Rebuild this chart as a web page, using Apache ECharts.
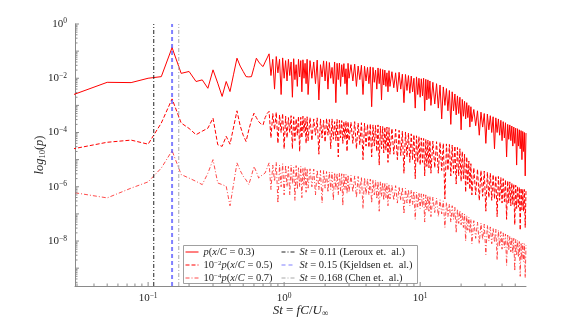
<!DOCTYPE html>
<html><head><meta charset="utf-8">
<script src="https://cdn.jsdelivr.net/npm/echarts@6/dist/echarts.min.js"></script>
<style>html,body{margin:0;padding:0;background:#fff}#c{width:581px;height:323px}</style>
</head><body><div id="c"></div>
<script>
// Strouhal number bins (shared by the three spectra)
const st = [
 0.025,0.05,0.075,0.1,0.125,0.15,0.175,0.2,0.225,0.25,0.275,0.3,0.325,0.35,0.375,0.4,0.425,0.45,0.475,0.5,
 0.525,0.55,0.575,0.6,0.625,0.65,0.675,0.7,0.725,0.75,0.775,0.8,0.825,0.85,0.875,0.9,0.925,0.95,0.975,1.0,
 1.025,1.05,1.075,1.1,1.125,1.15,1.175,1.2,1.225,1.25,1.275,1.3,1.325,1.35,1.375,1.4,1.425,1.45,1.475,1.5,
 1.55,1.6,1.65,1.7,1.75,1.8,1.85,1.9,1.95,2.0,2.05,2.1,2.15,2.2,2.25,2.3,2.35,2.4,2.45,2.5,
 2.55,2.6,2.65,2.7,2.75,2.8,2.85,2.9,2.95,3.0,
 3.1,3.2,3.3,3.4,3.5,3.6,3.7,3.8,3.9,4.0,4.1,4.2,4.3,4.4,4.5,4.6,4.7,4.8,4.9,5.0,
 5.1,5.2,5.3,5.4,5.5,5.6,5.7,5.8,5.9,6.0,
 6.2,6.4,6.6,6.8,7.0,7.2,7.4,7.6,7.8,8.0,8.2,8.4,8.6,8.8,9.0,9.2,9.4,9.6,9.8,10.0,
 10.2,10.4,10.6,10.8,11.0,11.2,11.4,11.6,11.8,12.0,
 12.4,12.8,13.2,13.6,14.0,14.4,14.8,15.2,15.6,16.0,16.4,16.8,17.2,17.6,18.0,18.4,18.8,19.2,19.6,20.0,
 20.4,20.8,21.2,21.6,22.0,22.4,22.8,23.2,23.6,24.0,
 24.8,25.6,26.4,27.2,28,28.8,29.6,30.4,31.2,32,32.8,33.6,34.4,35.2,36,36.8,37.6,38.4,39.2,40,
 40.8,41.6,42.4,43.2,44,44.8,45.6,46.4,47.2,48,48.8,49.6,50.4,51.2,52,52.8,53.6,54.4,55.2,56,
 56.8,57.6,58.4,59.2,60
];
// log10 of p(x/C=0.3)
const log10P03 = [
 -2.70,-2.15,-2.16,-2.00,-1.94,-0.87,-1.82,-1.75,-2.12,-2.06,-2.37,-1.69,-2.18,-2.67,-2.12,-2.49,-1.85,-1.26,-1.55,-1.75,
 -1.94,-1.95,-1.94,-1.6,-1.26,-1.4,-1.5,-1.57,-1.4,-1.25,-1.1,-1.9,-1.3,-2.4,-1.2,-1.8,-1.3,-2.6,-1.25,-2.0,
 -1.35,-2.1,-1.3,-1.9,-1.4,-2.7,-1.28,-2.05,-1.5,-2.3,-1.3,-1.95,-1.35,-2.5,-1.32,-2.0,-1.45,-2.2,-1.3,-2.6,
 -1.35,-2.0,-1.4,-2.2,-1.33,-2.8,-1.5,-1.95,-1.36,-2.1,-1.38,-2.4,-1.42,-2.0,-1.6,-2.2,-1.4,-2.9,-1.45,-2.05,
 -1.44,-2.3,-1.5,-1.95,-1.46,-2.2,-1.65,-2.6,-1.45,-2.0,
 -1.5,-2.1,-1.48,-2.3,-1.55,-2.05,-1.52,-2.6,-1.56,-2.1,-1.6,-2.2,-1.58,-3.05,-1.6,-2.15,-1.7,-2.4,-1.62,-2.2,
 -1.65,-2.8,-1.68,-2.25,-1.7,-2.3,-1.8,-2.5,-1.72,-2.3,
 -1.76,-2.35,-1.8,-2.5,-1.78,-2.4,-1.85,-2.9,-1.86,-2.45,-1.9,-2.55,-1.92,-2.5,-2.0,-3.1,-1.95,-2.6,-2.0,-2.7,
 -2.02,-2.65,-2.0,-3.2,-2.04,-2.8,-2.06,-2.75,-2.1,-3.0,
 -2.15,-2.95,-2.2,-3.1,-2.25,-3.5,-2.32,-3.0,-2.38,-3.2,-2.45,-3.7,-2.5,-3.2,-2.58,-3.35,-2.65,-3.3,-2.7,-3.9,
 -2.78,-3.4,-2.85,-3.5,-2.9,-3.45,-3.0,-3.8,-3.05,-3.6,
 -3.15,-3.75,-3.2,-4.1,-3.25,-3.8,-3.3,-4.4,-3.32,-3.9,-3.38,-4.0,-3.42,-4.6,-3.46,-4.0,-3.5,-4.1,-3.55,-4.3,
 -3.6,-4.2,-3.64,-4.9,-3.7,-4.25,-3.72,-4.3,-3.76,-4.5,-3.8,-4.4,-3.84,-5.2,-3.86,-4.5,-3.9,-4.6,-3.93,-5.0,
 -3.96,-4.7,-4.0,-5.6,-4.02
];
// log10 of 1e-2 * p(x/C=0.5)
const log10P05 = [
 -4.65,-4.36,-4.28,-4.43,-3.65,-2.76,-3.65,-3.85,-4.08,-3.95,-3.84,-3.47,-4.45,-4.51,-4.14,-4.43,-3.8,-3.2,-3.75,-4.1,
 -4.33,-3.9,-3.55,-3.29,-3.45,-3.6,-3.68,-3.72,-3.45,-3.3,-3.22,-4.2,-3.3,-3.9,-3.25,-4.4,-3.35,-4.0,-3.3,-4.6,
 -3.4,-4.2,-3.45,-4.0,-3.38,-4.6,-3.42,-4.3,-3.5,-4.1,-3.4,-4.7,-3.44,-4.2,-3.4,-4.0,-3.48,-4.4,-3.42,-4.3,
 -3.45,-4.3,-3.5,-4.1,-3.46,-4.8,-3.5,-4.2,-3.55,-4.35,-3.48,-4.1,-3.52,-4.6,-3.5,-4.25,-3.6,-4.3,-3.52,-4.9,
 -3.55,-4.2,-3.56,-4.4,-3.6,-4.25,-3.58,-4.7,-3.6,-4.3,
 -3.62,-4.4,-3.6,-4.6,-3.65,-4.45,-3.64,-5.0,-3.66,-4.5,-3.7,-4.55,-3.68,-4.9,-3.72,-4.5,-3.74,-4.7,-3.72,-5.2,
 -3.76,-4.6,-3.78,-4.75,-3.8,-4.65,-3.8,-5.1,-3.82,-4.8,
 -3.85,-4.8,-3.88,-5.0,-3.92,-4.85,-3.95,-5.5,-3.98,-4.9,-4.02,-5.1,-4.05,-5.0,-4.08,-5.7,-4.12,-5.1,-4.15,-5.2,
 -4.2,-5.1,-4.22,-5.6,-4.25,-5.25,-4.28,-5.3,-4.3,-5.5,
 -4.32,-5.3,-4.34,-5.5,-4.36,-5.4,-4.4,-6.45,-4.42,-5.4,-4.44,-5.6,-4.46,-5.5,-4.5,-5.9,-4.55,-5.6,-4.6,-5.8,
 -4.7,-5.7,-4.8,-6.2,-4.9,-5.9,-5.05,-6.1,-5.15,-6.3,
 -5.3,-6.3,-5.35,-6.5,-5.4,-6.35,-5.42,-6.9,-5.46,-6.4,-5.5,-6.5,-5.55,-6.45,-5.6,-7.1,-5.62,-6.5,-5.66,-6.6,
 -5.7,-6.55,-5.74,-7.2,-5.78,-6.6,-5.82,-6.7,-5.86,-6.65,-5.9,-7.4,-5.94,-6.8,-5.98,-6.75,-6.02,-7.6,-6.05,-6.85,
 -6.08,-6.9,-6.1,-7.5,-6.15
];
// log10 of 1e-4 * p(x/C=0.7)
const log10P07 = [
 -6.17,-6.41,-6.05,-5.82,-5.31,-4.67,-5.55,-5.68,-5.8,-5.92,-5.5,-5.0,-5.86,-5.92,-5.98,-6.7,-5.9,-5.12,-5.4,-5.61,
 -5.75,-5.92,-5.6,-5.25,-5.45,-5.68,-5.6,-5.55,-5.49,-5.3,-5.12,-6.1,-5.2,-5.8,-5.1,-6.6,-5.2,-6.0,-5.15,-6.3,
 -5.2,-6.0,-5.25,-6.3,-5.2,-5.9,-5.28,-6.5,-5.22,-6.1,-5.3,-6.0,-5.25,-6.4,-5.3,-5.95,-5.28,-6.2,-5.32,-6.05,
 -5.34,-6.0,-5.35,-6.3,-5.38,-6.1,-5.4,-6.6,-5.4,-6.05,-5.44,-6.2,-5.45,-6.1,-5.46,-6.5,-5.48,-6.1,-5.5,-6.3,
 -5.5,-6.15,-5.52,-6.7,-5.54,-6.1,-5.55,-6.25,-5.56,-6.2,
 -5.58,-6.2,-5.6,-6.4,-5.62,-6.25,-5.64,-6.8,-5.66,-6.3,-5.7,-6.3,-5.72,-6.6,-5.74,-6.3,-5.76,-6.45,-5.8,-6.9,
 -5.82,-6.35,-5.84,-6.5,-5.86,-6.4,-5.88,-6.7,-5.9,-6.45,
 -5.93,-6.5,-5.96,-6.6,-6.0,-6.5,-6.02,-7.0,-6.06,-6.6,-6.1,-6.7,-6.12,-6.65,-6.16,-7.2,-6.2,-6.75,-6.22,-6.8,
 -6.26,-6.75,-6.28,-7.3,-6.3,-6.85,-6.33,-6.9,-6.35,-7.1,
 -6.38,-6.95,-6.42,-7.1,-6.48,-7.0,-6.52,-7.5,-6.58,-7.1,-6.64,-7.3,-6.7,-7.2,-6.76,-7.7,-6.82,-7.35,-6.88,-7.4,
 -6.94,-7.5,-7.0,-8.0,-7.06,-7.6,-7.12,-7.7,-7.2,-8.1,
 -7.25,-7.9,-7.3,-8.1,-7.34,-7.95,-7.38,-8.5,-7.42,-8.0,-7.48,-8.1,-7.52,-8.05,-7.56,-8.7,-7.6,-8.2,-7.65,-8.3,
 -7.7,-8.25,-7.74,-8.9,-7.78,-8.35,-7.82,-8.4,-7.86,-8.45,-7.9,-9.1,-7.94,-8.5,-7.98,-8.6,-8.02,-9.3,-8.06,-8.7,
 -8.08,-8.75,-8.1,-9.35,-8.15
];
// reference Strouhal numbers
const stRefs = [0.11, 0.15, 0.168];
// axis ranges and ticks
const X_MIN = 0.029, X_MAX = 60;
const Y_MIN = 2.2e-10, Y_MAX = 1;
const xMajorTicks = [0.1, 1, 10];
const xMinorTicks = [0.03,0.04,0.05,0.06,0.07,0.08,0.09,0.2,0.3,0.4,0.5,0.6,0.7,0.8,0.9,2,3,4,5,6,7,8,9,20,30,40,50];
const yDecades = [1e-10,1e-9,1e-8,1e-7,1e-6,1e-5,1e-4,1e-3,1e-2,1e-1,1];
const minorMult = [2,3,4,5,6,7,8,9];

const FONT = 'Liberation Serif';
const AX = '#8a8a8a', TXT = '#262626';
const yMinorTicks = [];
yDecades.forEach(d => minorMult.forEach(m => { const v = m * d; if (v > Y_MIN && v < Y_MAX) yMinorTicks.push(v); }));
const yMajorTicks = yDecades.filter(v => v >= Y_MIN && v <= Y_MAX);

const toPts = arr => st.map((s, i) => [s, Math.pow(10, arr[i])]);

function tickSeries(vals, axis, len) {
  return {
    type: 'custom', silent: true, z: 6, clip: false, animation: false,
    data: vals.map(v => axis === 'x' ? [v, Y_MIN] : [X_MIN, v]),
    renderItem(params, api) {
      const p = api.coord([api.value(0), api.value(1)]);
      const shape = axis === 'x'
        ? { x1: p[0], y1: p[1], x2: p[0], y2: p[1] - len }
        : { x1: p[0], y1: p[1], x2: p[0] + len, y2: p[1] };
      return { type: 'line', shape, style: { stroke: AX, lineWidth: 1 } };
    }
  };
}

const supRich = {
  b: { fontFamily: FONT, fontSize: 11, color: TXT },
  sup: { fontFamily: FONT, fontSize: 7.5, color: TXT, verticalAlign: 'bottom', padding: [0, 0, 5, 0] }
};
function powLabel(v, everyOther) {
  const e = Math.log10(v);
  const r = Math.round(e);
  if (Math.abs(e - r) > 1e-6) return '';
  if (everyOther && r % 2 !== 0) return '';
  return '{b|10}{sup|' + (r < 0 ? '\u2212' + (-r) : r) + '}';
}

const legendText = {
  p03: '{i|p}({i|x}/{i|C} = 0.3)',
  p05: '10{sup|\u22122}{i|p}({i|x}/{i|C} = 0.5)',
  p07: '10{sup|\u22124}{i|p}({i|x}/{i|C} = 0.7)',
  r1: '{i|St} = 0.11 (Leroux et.  al.)',
  r2: '{i|St} = 0.15 (Kjeldsen et.  al.)',
  r3: '{i|St} = 0.168 (Chen et.  al.)'
};
const legendRich = {
  i: { fontFamily: FONT, fontStyle: 'italic', fontSize: 10.5, color: TXT, lineHeight: 12 },
  sup: { fontFamily: FONT, fontSize: 7, color: TXT, verticalAlign: 'bottom', padding: [0, 0, 4, 0] }
};
const legendBase = {
  orient: 'vertical', itemWidth: 13, itemHeight: 11, itemGap: 1, padding: 0,
  itemStyle: { opacity: 0 },
  lineStyle: { width: 1 },
  formatter: n => legendText[n],
  textStyle: { fontFamily: FONT, fontSize: 10.5, color: TXT, lineHeight: 12, rich: legendRich }
};

const vLine = (x, name, color, width, type) => ({
  name, type: 'line', symbol: 'none', silent: true, z: 3,
  data: [[x, Y_MIN], [x, Y_MAX]],
  itemStyle: { color },
  lineStyle: { color, width, type }
});

const chart = echarts.init(document.getElementById('c'));
chart.setOption({
  animation: false,
  backgroundColor: '#fff',
  grid: { left: 75, right: 55, top: 24, bottom: 36 },
  xAxis: {
    type: 'log', logBase: 10, min: X_MIN, max: X_MAX,
    axisLine: { lineStyle: { color: AX } },
    axisTick: { show: false }, splitLine: { show: false }, minorTick: { show: false },
    axisLabel: { formatter: v => powLabel(v, false), margin: 6, rich: supRich, showMinLabel: true, showMaxLabel: true },
    name: '{i|St} = {i|fC}/{i|U}{sub|\u221e}', nameLocation: 'middle', nameGap: 17, nameMoveOverlap: false,
    nameTextStyle: { fontFamily: FONT, fontSize: 13, color: TXT, rich: {
      i: { fontFamily: FONT, fontStyle: 'italic', fontSize: 13, color: TXT },
      sub: { fontFamily: FONT, fontSize: 9, color: TXT, verticalAlign: 'top', padding: [6, 0, 0, 0] } } }
  },
  yAxis: {
    type: 'log', logBase: 10, min: Y_MIN, max: Y_MAX,
    axisLine: { show: true, lineStyle: { color: AX } },
    axisTick: { show: false }, splitLine: { show: false }, minorTick: { show: false },
    axisLabel: { formatter: v => powLabel(v, true), margin: 8, rich: supRich },
    name: '{i|log}{sub|10}({i|p})', nameLocation: 'middle', nameRotate: 90, nameGap: 28, nameMoveOverlap: false,
    nameTextStyle: { fontFamily: FONT, fontSize: 12.5, color: TXT, rich: {
      i: { fontFamily: FONT, fontStyle: 'italic', fontSize: 12.5, color: TXT },
      sub: { fontFamily: FONT, fontSize: 8.5, color: TXT, verticalAlign: 'top', padding: [6, 0, 0, 0] } } }
  },
  legend: [
    Object.assign({ left: 185, top: 246, data: ['p03', 'p05', 'p07'] }, legendBase),
    Object.assign({ left: 281, top: 246, data: ['r1', 'r2', 'r3'] }, legendBase)
  ],
  graphic: { elements: [
    { type: 'rect', z: 3, shape: { x: 183.5, y: 245.5, width: 234, height: 38 }, style: { fill: '#fff', stroke: '#a0a0a0', lineWidth: 1 } }
  ] },
  series: [
    { name: 'p03', type: 'line', symbol: 'none', data: toPts(log10P03), z: 2,
      itemStyle: { color: '#ff0000' }, lineStyle: { color: '#ff0000', width: 1 } },
    { name: 'p05', type: 'line', symbol: 'none', data: toPts(log10P05), z: 2,
      itemStyle: { color: '#ff0000' }, lineStyle: { color: '#ff0000', width: 1, type: [4, 2] } },
    { name: 'p07', type: 'line', symbol: 'none', data: toPts(log10P07), z: 2,
      itemStyle: { color: '#ff2a2a' }, lineStyle: { color: '#ff2a2a', width: 1, type: [4, 2, 1, 2], opacity: 0.85 } },
    vLine(stRefs[0], 'r1', '#222222', 1, [4, 2, 1, 2]),
    vLine(stRefs[1], 'r2', 'rgba(60,60,255,0.65)', 2, [4, 3]),
    vLine(stRefs[2], 'r3', '#a8a8a8', 1, [4, 2, 1, 2]),
    tickSeries(xMajorTicks, 'x', 4),
    tickSeries(xMinorTicks, 'x', 2.5),
    tickSeries(yMajorTicks, 'y', 4),
    tickSeries(yMinorTicks, 'y', 2.5)
  ]
});
</script></body></html>
